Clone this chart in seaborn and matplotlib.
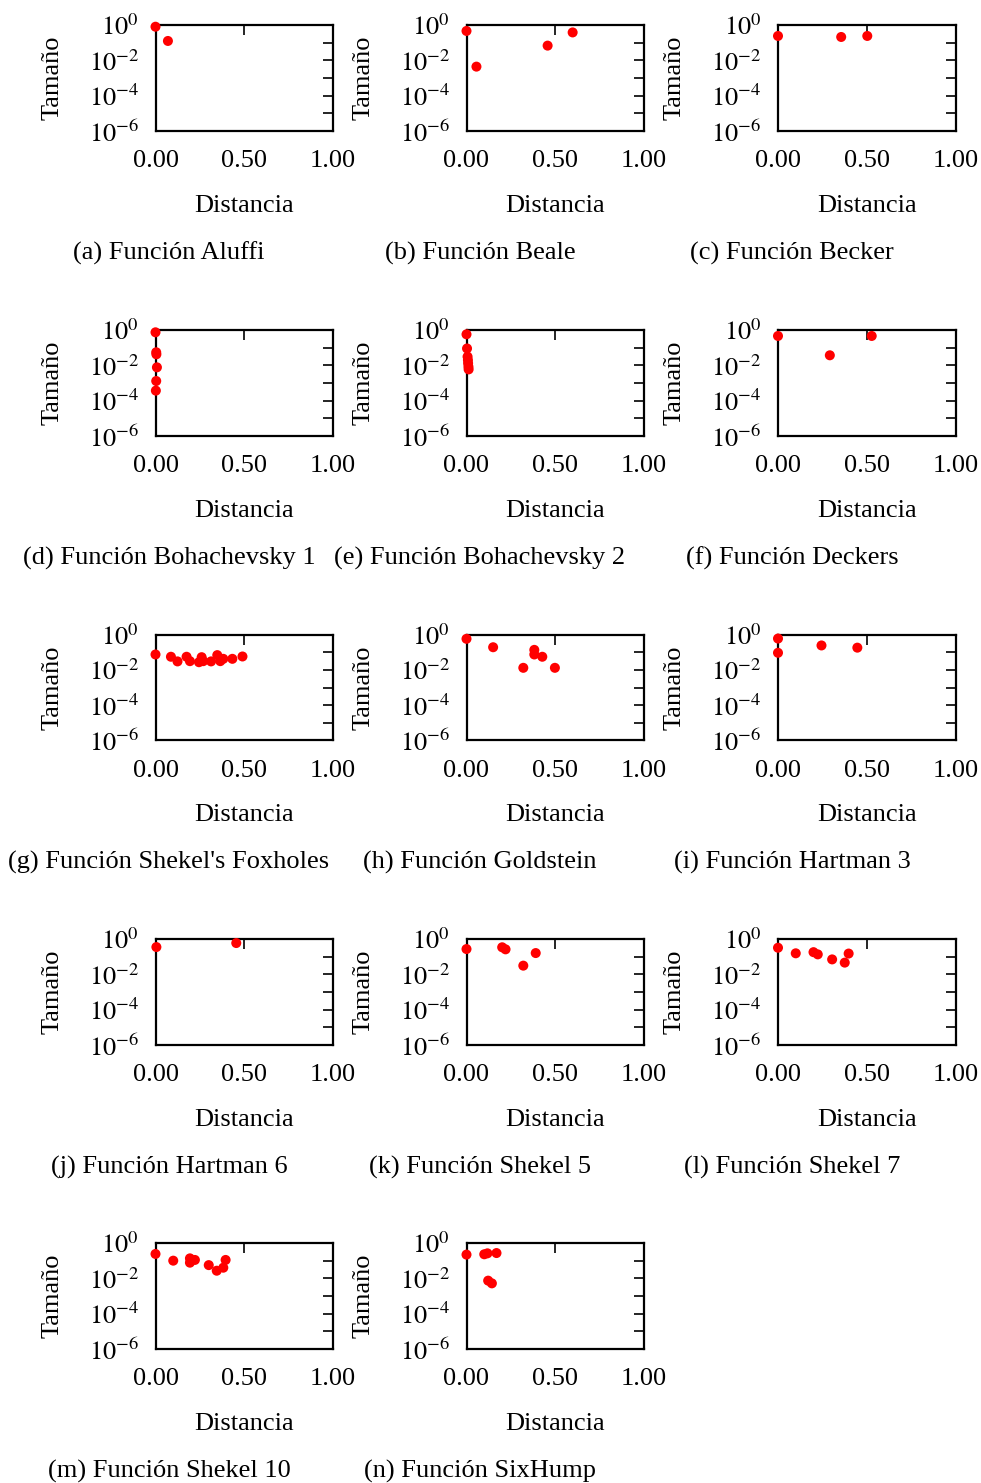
import matplotlib
matplotlib.use("Agg")
import matplotlib.pyplot as plt
import seaborn as sns
import numpy as np
import pandas as pd
from matplotlib.ticker import FixedLocator, FuncFormatter

sns.set_theme(style="white")
plt.rcParams['font.family'] = ['Liberation Serif', 'DejaVu Serif']
plt.rcParams['mathtext.fontset'] = 'stix'
plt.rcParams['text.color'] = 'black'
plt.rcParams['axes.labelcolor'] = 'black'
plt.rcParams['xtick.color'] = 'black'
plt.rcParams['ytick.color'] = 'black'

# ---- data (Distancia, Tamaño) per function ----
titles = ["(a) Función Aluffi", "(b) Función Beale", "(c) Función Becker",
          "(d) Función Bohachevsky 1", "(e) Función Bohachevsky 2", "(f) Función Deckers",
          "(g) Función Shekel's Foxholes", "(h) Función Goldstein", "(i) Función Hartman 3",
          "(j) Función Hartman 6", "(k) Función Shekel 5", "(l) Función Shekel 7",
          "(m) Función Shekel 10", "(n) Función SixHump"]

dist_a = [0.0, 0.07]
size_a = [0.8, 0.125]
dist_b = [0.0, 0.056, 0.457, 0.598]
size_b = [0.46, 0.0044, 0.068, 0.38]
dist_c = [0.0, 0.356, 0.503]
size_c = [0.24, 0.21, 0.24]
dist_d = [0.0, 0.004, 0.005, 0.008, 0.004, 0.002]
size_d = [0.74, 0.055, 0.042, 0.0077, 0.0013, 0.00037]
dist_e = [0.0, 0.003, 0.006, 0.008, 0.009, 0.011, 0.012]
size_e = [0.57, 0.09, 0.031, 0.02, 0.013, 0.0083, 0.0059]
dist_f = [0.0, 0.292, 0.528]
size_f = [0.46, 0.037, 0.46]
dist_g = [0.0, 0.087, 0.124, 0.175, 0.194, 0.245, 0.26, 0.269, 0.313,
          0.348, 0.365, 0.382, 0.433, 0.49]
size_g = [0.074, 0.055, 0.030, 0.055, 0.031, 0.027, 0.052, 0.031, 0.030,
          0.068, 0.031, 0.042, 0.042, 0.057]
dist_h = [0.0, 0.15, 0.32, 0.382, 0.382, 0.427, 0.498]
size_h = [0.57, 0.19, 0.013, 0.135, 0.074, 0.055, 0.013]
dist_i = [0.0, 0.0, 0.245, 0.447]
size_i = [0.59, 0.092, 0.24, 0.18]
dist_j = [0.005, 0.455]
size_j = [0.35, 0.59]
dist_k = [0.0, 0.201, 0.22, 0.32, 0.39]
size_k = [0.27, 0.34, 0.26, 0.031, 0.16]
dist_l = [0.0, 0.10, 0.20, 0.224, 0.305, 0.376, 0.398]
size_l = [0.32, 0.155, 0.18, 0.135, 0.07, 0.046, 0.15]
dist_m = [0.0, 0.10, 0.194, 0.194, 0.222, 0.30, 0.345, 0.382, 0.395]
size_m = [0.24, 0.10, 0.135, 0.077, 0.11, 0.056, 0.027, 0.04, 0.11]
dist_n = [0.0, 0.10, 0.118, 0.169, 0.122, 0.143]
size_n = [0.22, 0.23, 0.26, 0.27, 0.0074, 0.0052]

dists = [dist_a, dist_b, dist_c, dist_d, dist_e, dist_f, dist_g,
         dist_h, dist_i, dist_j, dist_k, dist_l, dist_m, dist_n]
sizes = [size_a, size_b, size_c, size_d, size_e, size_f, size_g,
         size_h, size_i, size_j, size_k, size_l, size_m, size_n]

x_ticks = [0.0, 0.5, 1.0]
y_decades = [1e-6, 1e-5, 1e-4, 1e-3, 1e-2, 1e-1, 1e0]

W, H = 981, 1483
fig = plt.figure(figsize=(W / 100, H / 100), dpi=100)

col_left = [155.5, 466.5, 778]
ax_w = 177.5
row_top = [25, 330, 634.5, 939, 1243]
ax_h = 106
cap_x = [169, 480, 792]
FS = 19

def yfmt(v, pos):
    e = int(round(np.log10(v)))
    if e % 2 == 0:
        return r'$10^{%d}$' % e if e >= 0 else r'$10^{-%d}$' % (-e)
    return ''

for i, (title, dx, sy) in enumerate(zip(titles, dists, sizes)):
    r, c = divmod(i, 3)
    left = col_left[c]
    top = row_top[r]
    ax = fig.add_axes([left / W, 1 - (top + ax_h) / H, ax_w / W, ax_h / H])
    df = pd.DataFrame({"Distancia": dx, "Tamaño": sy})
    sns.scatterplot(data=df, x="Distancia", y="Tamaño", ax=ax, color="#ff0000",
                    s=52, edgecolor="none", linewidth=0, clip_on=False, zorder=5)
    ax.set_yscale("log")
    ax.set_xlim(0, 1)
    ax.set_ylim(1e-6, 1e0)
    ax.xaxis.set_major_locator(FixedLocator(x_ticks))
    ax.xaxis.set_major_formatter(FuncFormatter(lambda v, p: f"{v:.2f}"))
    ax.yaxis.set_major_locator(FixedLocator(y_decades))
    ax.yaxis.set_minor_locator(FixedLocator([]))
    ax.yaxis.set_major_formatter(FuncFormatter(yfmt))
    ax.tick_params(axis="both", which="major", direction="in", length=7, width=1.2,
                   top=True, right=True, labelsize=FS, color="black",
                   labelcolor="black")
    ax.tick_params(axis="x", pad=14)
    ax.tick_params(axis="y", pad=12)
    for sp in ax.spines.values():
        sp.set_color("black")
        sp.set_linewidth(1.6)
        sp.set_visible(True)
    ax.set_xlabel("Distancia", fontsize=FS, labelpad=16, color="black")
    ax.set_ylabel("Tamaño", fontsize=FS, color="black")
    ax.yaxis.set_label_coords(-92 / ax_w, 0.5)
    fig.text(cap_x[c] / W, 1 - (top + 228) / H, title, ha="center", va="center",
             fontsize=FS, color="black")

fig.savefig("out.png", dpi=100, facecolor="white")
